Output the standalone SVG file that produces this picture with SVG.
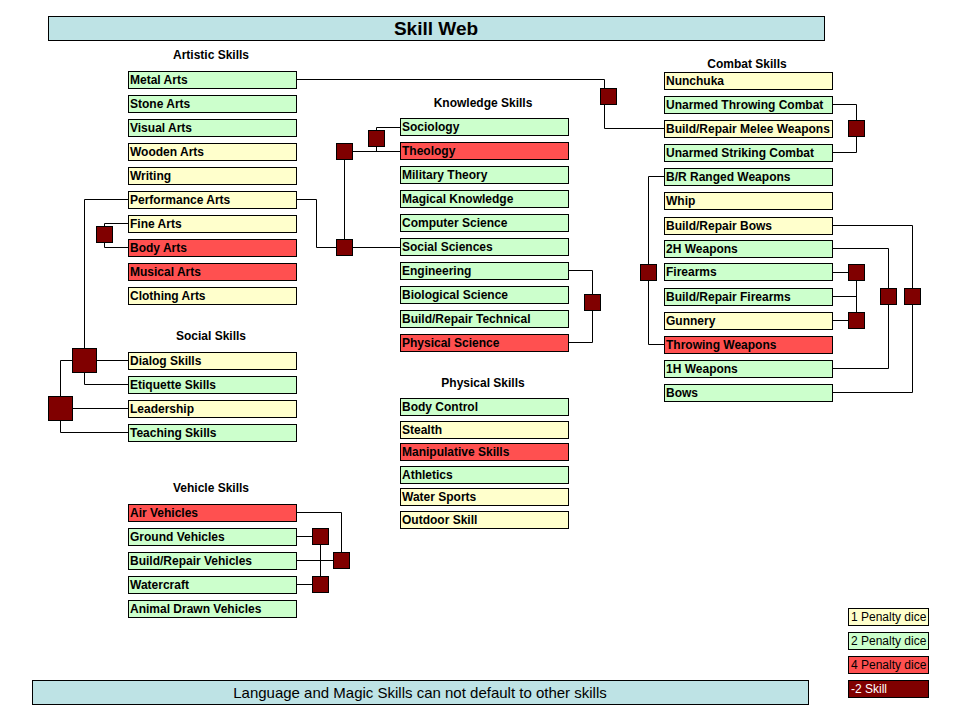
<svg xmlns="http://www.w3.org/2000/svg" width="960" height="720" viewBox="0 0 960 720">
<style>
.b rect{stroke:#000;stroke-width:1}
.y{fill:#FFFFCC}.g{fill:#CCFFCC}.r{fill:#FF5050}
.t{font-family:"Liberation Sans",Arial,sans-serif;font-size:12px;font-weight:bold;fill:#000}
.h{font-family:"Liberation Sans",Arial,sans-serif;font-size:12px;font-weight:bold;text-anchor:middle}
.sq{fill:#800000;stroke:#000}
#conn path{fill:none;stroke:#000;stroke-width:1}
</style>
<rect width="960" height="720" fill="#fff"/>
<g id="title"><rect x="48.5" y="16.5" width="776" height="24" fill="#BEE3E5" stroke="#000"/><text x="436" y="35" text-anchor="middle" font-family="Liberation Sans,Arial,sans-serif" font-size="19" font-weight="bold">Skill Web</text></g>
<g id="footer"><rect x="32.5" y="680.5" width="776" height="24" fill="#BEE3E5" stroke="#000"/><text x="420" y="698" text-anchor="middle" font-family="Liberation Sans,Arial,sans-serif" font-size="15">Language and Magic Skills can not default to other skills</text></g>
<g id="headers">
<text class="h" x="211" y="59">Artistic Skills</text>
<text class="h" x="483" y="107">Knowledge Skills</text>
<text class="h" x="747" y="68">Combat Skills</text>
<text class="h" x="211" y="340">Social Skills</text>
<text class="h" x="211" y="492">Vehicle Skills</text>
<text class="h" x="483" y="387">Physical Skills</text>
</g>
<g id="conn">
<path d="M296.5 79.5H604.5V128.5H664"/>
<path d="M832 104.5H856.5V152.5H832"/>
<path d="M664 176.5H648.5V344.5H664"/>
<path d="M832 272.5H856.5V320.5H832M832 296.5H856.5"/>
<path d="M832 225.5H912.5V392.5H832"/>
<path d="M832 248.5H888.5V368.5H832"/>
<path d="M568 270.5H592.5V342.5H568"/>
<path d="M296.5 199.5H316.5V247.5H400M344.5 151.5V247.5M344.5 151.5H400M376.5 151.5V127.5H400"/>
<path d="M128 223.5H104.5V247.5H128"/>
<path d="M128 199.5H84.5V384.5H128M84.5 360.5H128"/>
<path d="M72 360.5H60.5V432.5H128M60.5 408.5H128"/>
<path d="M296.5 512.5H341.5V560.5H296.5M296.5 536.5H320.5V584.5H296.5"/>
</g>
<g id="squares">
<rect class="sq" x="600.5" y="88.5" width="16" height="16"/>
<rect class="sq" x="848.5" y="120.5" width="16" height="16"/>
<rect class="sq" x="640.5" y="264.5" width="16" height="16"/>
<rect class="sq" x="848.5" y="264.5" width="16" height="16"/>
<rect class="sq" x="848.5" y="312.5" width="16" height="16"/>
<rect class="sq" x="880.5" y="288.5" width="16" height="16"/>
<rect class="sq" x="904.5" y="288.5" width="16" height="16"/>
<rect class="sq" x="584.5" y="294.5" width="16" height="16"/>
<rect class="sq" x="336.5" y="143.5" width="16" height="16"/>
<rect class="sq" x="368.5" y="130.5" width="16" height="16"/>
<rect class="sq" x="336.5" y="239.5" width="16" height="16"/>
<rect class="sq" x="96.5" y="226.5" width="16" height="16"/>
<rect class="sq" x="72.5" y="348.5" width="24" height="24"/>
<rect class="sq" x="48.5" y="396.5" width="24" height="24"/>
<rect class="sq" x="312.5" y="528.5" width="16" height="16"/>
<rect class="sq" x="312.5" y="576.5" width="16" height="16"/>
<rect class="sq" x="333.5" y="552.5" width="16" height="16"/>
</g>
<g class="b">
<g id="n-metal"><rect class="g" x="128.5" y="71.5" width="168" height="17"/><text class="t" x="130" y="84">Metal Arts</text></g>
<g id="n-stone"><rect class="g" x="128.5" y="95.5" width="168" height="17"/><text class="t" x="130" y="108">Stone Arts</text></g>
<g id="n-visual"><rect class="g" x="128.5" y="119.5" width="168" height="17"/><text class="t" x="130" y="132">Visual Arts</text></g>
<g id="n-wooden"><rect class="y" x="128.5" y="143.5" width="168" height="17"/><text class="t" x="130" y="156">Wooden Arts</text></g>
<g id="n-writing"><rect class="y" x="128.5" y="167.5" width="168" height="17"/><text class="t" x="130" y="180">Writing</text></g>
<g id="n-perf"><rect class="y" x="128.5" y="191.5" width="168" height="17"/><text class="t" x="130" y="204">Performance Arts</text></g>
<g id="n-fine"><rect class="y" x="128.5" y="215.5" width="168" height="17"/><text class="t" x="130" y="228">Fine Arts</text></g>
<g id="n-body"><rect class="r" x="128.5" y="239.5" width="168" height="17"/><text class="t" x="130" y="252">Body Arts</text></g>
<g id="n-musical"><rect class="r" x="128.5" y="263.5" width="168" height="17"/><text class="t" x="130" y="276">Musical Arts</text></g>
<g id="n-cloth"><rect class="y" x="128.5" y="287.5" width="168" height="17"/><text class="t" x="130" y="300">Clothing Arts</text></g>
<g id="n-dialog"><rect class="y" x="128.5" y="352.5" width="168" height="17"/><text class="t" x="130" y="365">Dialog Skills</text></g>
<g id="n-etiq"><rect class="g" x="128.5" y="376.5" width="168" height="17"/><text class="t" x="130" y="389">Etiquette Skills</text></g>
<g id="n-lead"><rect class="y" x="128.5" y="400.5" width="168" height="17"/><text class="t" x="130" y="413">Leadership</text></g>
<g id="n-teach"><rect class="g" x="128.5" y="424.5" width="168" height="17"/><text class="t" x="130" y="437">Teaching Skills</text></g>
<g id="n-air"><rect class="r" x="128.5" y="504.5" width="168" height="17"/><text class="t" x="130" y="517">Air Vehicles</text></g>
<g id="n-ground"><rect class="g" x="128.5" y="528.5" width="168" height="17"/><text class="t" x="130" y="541">Ground Vehicles</text></g>
<g id="n-brv"><rect class="g" x="128.5" y="552.5" width="168" height="17"/><text class="t" x="130" y="565">Build/Repair Vehicles</text></g>
<g id="n-water"><rect class="g" x="128.5" y="576.5" width="168" height="17"/><text class="t" x="130" y="589">Watercraft</text></g>
<g id="n-animal"><rect class="g" x="128.5" y="600.5" width="168" height="17"/><text class="t" x="130" y="613">Animal Drawn Vehicles</text></g>
<g id="n-soc"><rect class="g" x="400.5" y="118.5" width="168" height="17"/><text class="t" x="402" y="131">Sociology</text></g>
<g id="n-theo"><rect class="r" x="400.5" y="142.5" width="168" height="17"/><text class="t" x="402" y="155">Theology</text></g>
<g id="n-mil"><rect class="g" x="400.5" y="166.5" width="168" height="17"/><text class="t" x="402" y="179">Military Theory</text></g>
<g id="n-mag"><rect class="g" x="400.5" y="190.5" width="168" height="17"/><text class="t" x="402" y="203">Magical Knowledge</text></g>
<g id="n-comp"><rect class="g" x="400.5" y="214.5" width="168" height="17"/><text class="t" x="402" y="227">Computer Science</text></g>
<g id="n-socsci"><rect class="g" x="400.5" y="238.5" width="168" height="17"/><text class="t" x="402" y="251">Social Sciences</text></g>
<g id="n-eng"><rect class="g" x="400.5" y="262.5" width="168" height="17"/><text class="t" x="402" y="275">Engineering</text></g>
<g id="n-bio"><rect class="g" x="400.5" y="286.5" width="168" height="17"/><text class="t" x="402" y="299">Biological Science</text></g>
<g id="n-brt"><rect class="g" x="400.5" y="310.5" width="168" height="17"/><text class="t" x="402" y="323">Build/Repair Technical</text></g>
<g id="n-phys"><rect class="r" x="400.5" y="334.5" width="168" height="17"/><text class="t" x="402" y="347">Physical Science</text></g>
<g id="n-bc"><rect class="g" x="400.5" y="398.5" width="168" height="17"/><text class="t" x="402" y="411">Body Control</text></g>
<g id="n-stealth"><rect class="y" x="400.5" y="421.5" width="168" height="17"/><text class="t" x="402" y="434">Stealth</text></g>
<g id="n-manip"><rect class="r" x="400.5" y="443.5" width="168" height="17"/><text class="t" x="402" y="456">Manipulative Skills</text></g>
<g id="n-ath"><rect class="g" x="400.5" y="466.5" width="168" height="17"/><text class="t" x="402" y="479">Athletics</text></g>
<g id="n-ws"><rect class="y" x="400.5" y="488.5" width="168" height="17"/><text class="t" x="402" y="501">Water Sports</text></g>
<g id="n-out"><rect class="y" x="400.5" y="511.5" width="168" height="17"/><text class="t" x="402" y="524">Outdoor Skill</text></g>
<g id="n-nun"><rect class="y" x="664.5" y="72.5" width="168" height="17"/><text class="t" x="666" y="85">Nunchuka</text></g>
<g id="n-utc"><rect class="g" x="664.5" y="96.5" width="168" height="17"/><text class="t" x="666" y="109">Unarmed Throwing Combat</text></g>
<g id="n-brm"><rect class="y" x="664.5" y="120.5" width="168" height="17"/><text class="t" x="666" y="133">Build/Repair Melee Weapons</text></g>
<g id="n-usc"><rect class="g" x="664.5" y="144.5" width="168" height="17"/><text class="t" x="666" y="157">Unarmed Striking Combat</text></g>
<g id="n-brr"><rect class="g" x="664.5" y="168.5" width="168" height="17"/><text class="t" x="666" y="181">B/R Ranged Weapons</text></g>
<g id="n-whip"><rect class="y" x="664.5" y="192.5" width="168" height="17"/><text class="t" x="666" y="205">Whip</text></g>
<g id="n-brb"><rect class="y" x="664.5" y="217.5" width="168" height="17"/><text class="t" x="666" y="230">Build/Repair Bows</text></g>
<g id="n-2h"><rect class="g" x="664.5" y="240.5" width="168" height="17"/><text class="t" x="666" y="253">2H Weapons</text></g>
<g id="n-fire"><rect class="g" x="664.5" y="263.5" width="168" height="17"/><text class="t" x="666" y="276">Firearms</text></g>
<g id="n-brf"><rect class="g" x="664.5" y="288.5" width="168" height="17"/><text class="t" x="666" y="301">Build/Repair Firearms</text></g>
<g id="n-gun"><rect class="y" x="664.5" y="312.5" width="168" height="17"/><text class="t" x="666" y="325">Gunnery</text></g>
<g id="n-throw"><rect class="r" x="664.5" y="336.5" width="168" height="17"/><text class="t" x="666" y="349">Throwing Weapons</text></g>
<g id="n-1h"><rect class="g" x="664.5" y="360.5" width="168" height="17"/><text class="t" x="666" y="373">1H Weapons</text></g>
<g id="n-bows"><rect class="g" x="664.5" y="384.5" width="168" height="17"/><text class="t" x="666" y="397">Bows</text></g>
</g>
<g id="legend" class="b" font-family="Liberation Sans,Arial,sans-serif" font-size="12">
<rect class="y" x="848.5" y="608.5" width="80" height="17"/><text x="851" y="621">1 Penalty dice</text>
<rect class="g" x="848.5" y="632.5" width="80" height="17"/><text x="851" y="645">2 Penalty dice</text>
<rect class="r" x="848.5" y="656.5" width="80" height="17"/><text x="851" y="669">4 Penalty dice</text>
<rect x="848.5" y="680.5" width="80" height="17" fill="#800000"/><text x="851" y="693" fill="#fff">-2 Skill</text>
</g>
</svg>
